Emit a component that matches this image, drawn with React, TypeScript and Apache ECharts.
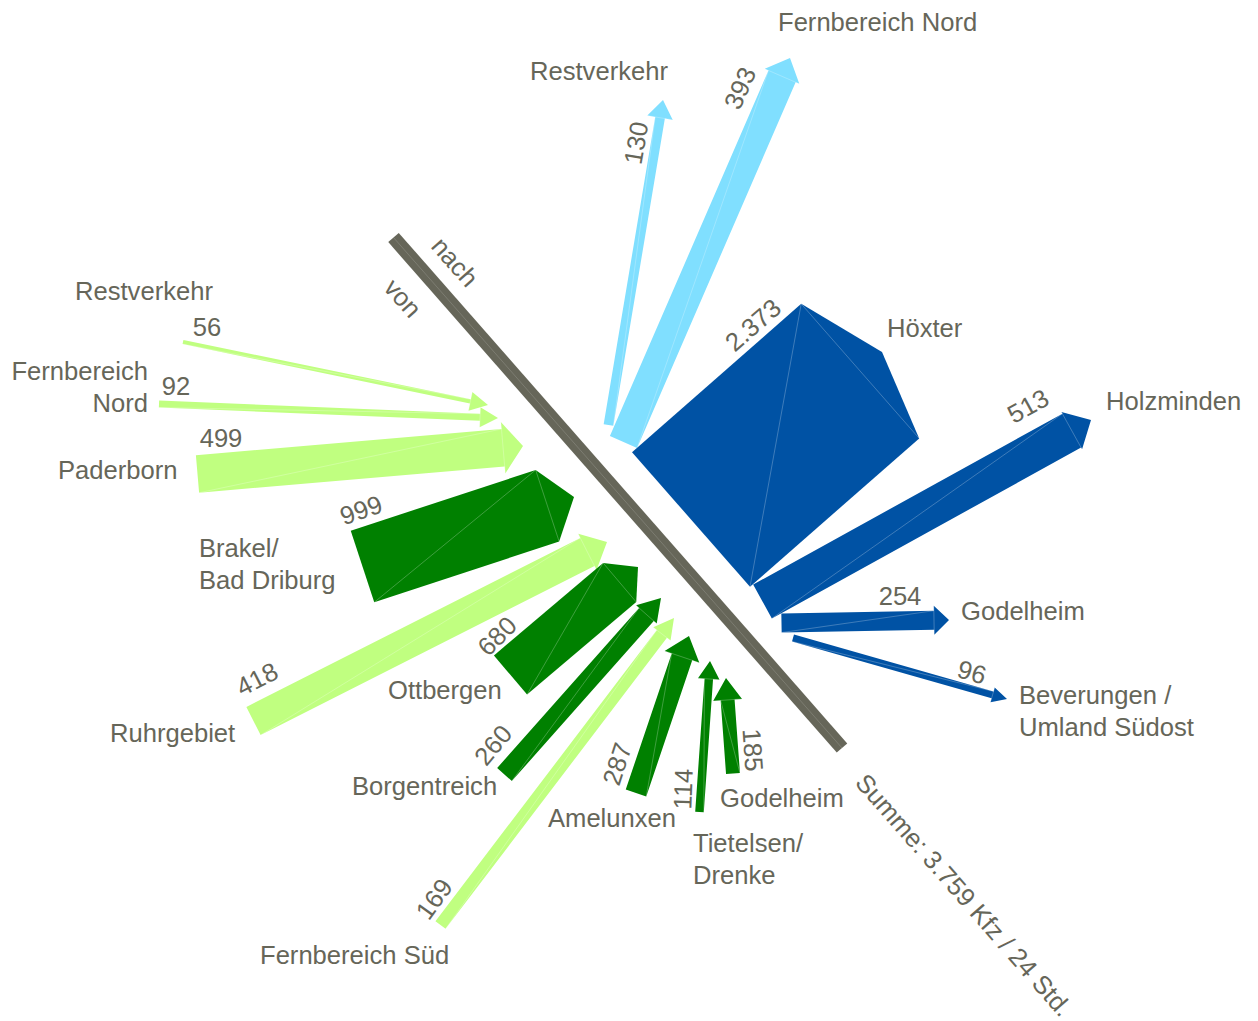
import React, { useEffect, useRef } from "react";
import * as echarts from "echarts";

// ---------- DATA ----------
const vonNames = [
  "Restverkehr",
  "Fernbereich\nNord",
  "Paderborn",
  "Brakel/\nBad Driburg",
  "Ruhrgebiet",
  "Ottbergen",
  "Borgentreich",
  "Fernbereich Süd",
  "Amelunxen",
  "Tietelsen/\nDrenke",
  "Godelheim",
];
const vonValues = [56, 92, 499, 999, 418, 680, 260, 169, 287, 114, 185];
const vonGroup = ["fern", "fern", "fern", "nah", "fern", "nah", "nah", "fern", "nah", "nah", "nah"];

const nachNames = [
  "Restverkehr",
  "Fernbereich Nord",
  "Höxter",
  "Holzminden",
  "Godelheim",
  "Beverungen /\nUmland Südost",
];
const nachValues = [130, 393, 2373, 513, 254, 96];
const nachGroup = ["fern", "fern", "nah", "nah", "nah", "nah"];

const sideLabels = ["nach", "von"];

// ---------- LAYOUT (positions / sizes, separate from data) ----------
type Lay = {
  tail: number[];
  tip: number[];
  hx: number; // head extra width
  hl: number; // head length
  lab: number[]; // value label x, y, screen angle (deg)
  nm: number[]; // name x, y
  al: string; // name align
};
const vonLayout: Lay[] = [
  { tail: [183, 342], tip: [488, 405], hx: 15, hl: 18, lab: [207, 327, 0], nm: [75, 291], al: "left" },
  { tail: [159, 404], tip: [498, 418], hx: 13, hl: 18, lab: [176, 386, 0], nm: [148, 387], al: "right" },
  { tail: [197.5, 474], tip: [523, 446], hx: 14, hl: 20, lab: [221, 438, 0], nm: [58, 470], al: "left" },
  { tail: [362.5, 566.5], tip: [574, 497], hx: 0, hl: 28, lab: [361, 510, -19], nm: [199, 564], al: "left" },
  { tail: [253.5, 721], tip: [607, 542], hx: 9, hl: 22, lab: [257, 679, -27], nm: [110, 733], al: "left" },
  { tail: [510.5, 675], tip: [638, 567], hx: 0, hl: 24, lab: [497, 636, -45], nm: [388, 690], al: "left" },
  { tail: [504.5, 774.5], tip: [661, 598], hx: 8, hl: 22, lab: [493, 745, -50], nm: [352, 786], al: "left" },
  { tail: [440.5, 925], tip: [674, 618], hx: 9, hl: 20, lab: [434, 899, -54], nm: [260, 955], al: "left" },
  { tail: [636, 793], tip: [689, 636], hx: 15, hl: 22, lab: [617, 764, -72], nm: [548, 818], al: "left" },
  { tail: [699.5, 812], tip: [710, 661], hx: 13, hl: 18, lab: [683, 789, -88], nm: [693, 859], al: "left" },
  { tail: [733, 773.5], tip: [726, 678], hx: 15, hl: 22, lab: [753, 750, 86], nm: [720, 798], al: "left" },
];
const nachLayout: Lay[] = [
  { tail: [608.5, 425], tip: [663, 100], hx: 16, hl: 18, lab: [636, 143, -80], nm: [530, 71], al: "left" },
  { tail: [623.5, 442], tip: [790, 58], hx: 8, hl: 20, lab: [740, 88, -66], nm: [778, 22], al: "left" },
  { tail: [691, 519.5], tip: [882, 352], hx: 0, hl: 29, lab: [753, 325, -41], nm: [887, 328], al: "left" },
  { tail: [762.5, 601.5], tip: [1091, 420], hx: 4, hl: 22, lab: [1028, 406, -29], nm: [1106, 401], al: "left" },
  { tail: [781.5, 623], tip: [949, 620], hx: 10, hl: 15, lab: [900, 596, 0], nm: [961, 611], al: "left" },
  { tail: [793, 638], tip: [1007, 699], hx: 8, hl: 15, lab: [972, 672, 16], nm: [1019, 711], al: "left" },
];

const W = 1258;
const H = 1021;
const K = 0.0754; // px per Kfz
const COLORS: Record<string, string> = {
  vonfern: "#C0FF80",
  vonnah: "#008000",
  nachfern: "#80DFFF",
  nachnah: "#0052A4",
};
const TEXT = "#666659";
const BAR = "#666659";
const FONT = "25.6px 'Liberation Sans', Arial, Helvetica, sans-serif";

const fmt = (v: number) => String(v).replace(/\B(?=(\d{3})+(?!\d))/g, ".");

const arrows = [
  ...vonNames.map((n, i) => ({ name: n, value: vonValues[i], color: COLORS["von" + vonGroup[i]], lay: vonLayout[i] })),
  ...nachNames.map((n, i) => ({ name: n, value: nachValues[i], color: COLORS["nach" + nachGroup[i]], lay: nachLayout[i] })),
];
const total = vonValues.reduce((s, v) => s + v, 0);

function arrowGeom(T: number[], P: number[], w: number, hw: number, hl: number) {
  const dx = P[0] - T[0];
  const dy = P[1] - T[1];
  const L = Math.hypot(dx, dy);
  const d = [dx / L, dy / L];
  const n = [-d[1], d[0]];
  const B = [T[0] + d[0] * (L - hl), T[1] + d[1] * (L - hl)];
  const off = (p: number[], s: number) => [p[0] + n[0] * s, p[1] + n[1] * s];
  const pts =
    hw <= w
      ? [off(T, w / 2), off(B, w / 2), P, off(B, -w / 2), off(T, -w / 2)]
      : [off(T, w / 2), off(B, w / 2), off(B, hw / 2), P, off(B, -hw / 2), off(B, -w / 2), off(T, -w / 2)];
  const diag = [off(T, w / 2), off(B, -w / 2)];
  const hb = hw <= w ? [off(B, w / 2), off(B, -w / 2)] : [off(B, hw / 2), off(B, -hw / 2)];
  return { pts, diag, hb };
}

export default function App() {
  const ref = useRef<HTMLDivElement>(null);
  useEffect(() => {
    if (!ref.current) return;
    const chart = echarts.init(ref.current, undefined, { renderer: "svg" });
    const hair = { stroke: "rgba(255,255,255,0.35)", lineWidth: 0.7 };
    const option: any = {
      animation: false,
      backgroundColor: "#ffffff",
      grid: { left: 0, right: 0, top: 0, bottom: 0 },
      xAxis: { type: "value", min: 0, max: W, show: false },
      yAxis: { type: "value", min: 0, max: H, inverse: true, show: false },
      series: [
        {
          type: "custom",
          clip: false,
          data: [[393.5, 237.5, 842, 748]],
          renderItem: (_p: any, api: any) => {
            const a = api.coord([api.value(0), api.value(1)]);
            const b = api.coord([api.value(2), api.value(3)]);
            const ang = (Math.atan2(b[1] - a[1], b[0] - a[0]) * 180) / Math.PI;
            const t1 = api.coord([455, 262]);
            const t2 = api.coord([403, 298]);
            const t3 = api.coord([964, 895]);
            const txt = (p: number[], s: string) => ({
              type: "text",
              x: p[0],
              y: p[1],
              rotation: (-ang * Math.PI) / 180,
              style: { text: s, fill: TEXT, font: FONT, align: "center", verticalAlign: "middle", textAlign: "center", textVerticalAlign: "middle" },
            });
            return {
              type: "group",
              children: [
                { type: "line", shape: { x1: a[0], y1: a[1], x2: b[0], y2: b[1] }, style: { stroke: BAR, lineWidth: 14, lineCap: "butt" } },
                { type: "line", shape: { x1: a[0], y1: a[1], x2: b[0], y2: b[1] }, style: { stroke: "rgba(255,255,255,0.25)", lineWidth: 0.6 } },
                txt(t1, sideLabels[0]),
                txt(t2, sideLabels[1]),
                txt(t3, "Summe: " + fmt(total) + " Kfz / 24 Std."),
              ],
            };
          },
        },
        {
          type: "custom",
          clip: false,
          data: arrows.map((a, i) => [i, a.value]),
          renderItem: (params: any, api: any) => {
            const a = arrows[params.dataIndex];
            const v = api.value(1);
            const L = a.lay;
            const T = api.coord(L.tail);
            const P = api.coord(L.tip);
            const w = v * K;
            const hw = L.hx > 0 ? w + L.hx : 0;
            const g = arrowGeom(T, P, w, hw, L.hl);
            const lp = api.coord([L.lab[0], L.lab[1]]);
            const np = api.coord([L.nm[0], L.nm[1]]);
            return {
              type: "group",
              children: [
                { type: "polygon", shape: { points: g.pts }, style: { fill: a.color } },
                { type: "line", shape: { x1: g.diag[0][0], y1: g.diag[0][1], x2: g.diag[1][0], y2: g.diag[1][1] }, style: hair },
                { type: "line", shape: { x1: g.hb[0][0], y1: g.hb[0][1], x2: g.hb[1][0], y2: g.hb[1][1] }, style: hair },
                {
                  type: "text",
                  x: lp[0],
                  y: lp[1],
                  rotation: (-L.lab[2] * Math.PI) / 180,
                  style: { text: fmt(v), fill: TEXT, font: FONT, align: "center", verticalAlign: "middle", textAlign: "center", textVerticalAlign: "middle" },
                },
                {
                  type: "text",
                  x: np[0],
                  y: np[1],
                  style: { text: a.name, fill: TEXT, font: FONT, lineHeight: 32, align: L.al, verticalAlign: "middle", textAlign: L.al, textVerticalAlign: "middle" },
                },
              ],
            };
          },
        },
      ],
    };
    chart.setOption(option);
    return () => chart.dispose();
  }, []);
  return <div ref={ref} style={{ position: "absolute", left: 0, top: 0, width: W, height: H }} />;
}
